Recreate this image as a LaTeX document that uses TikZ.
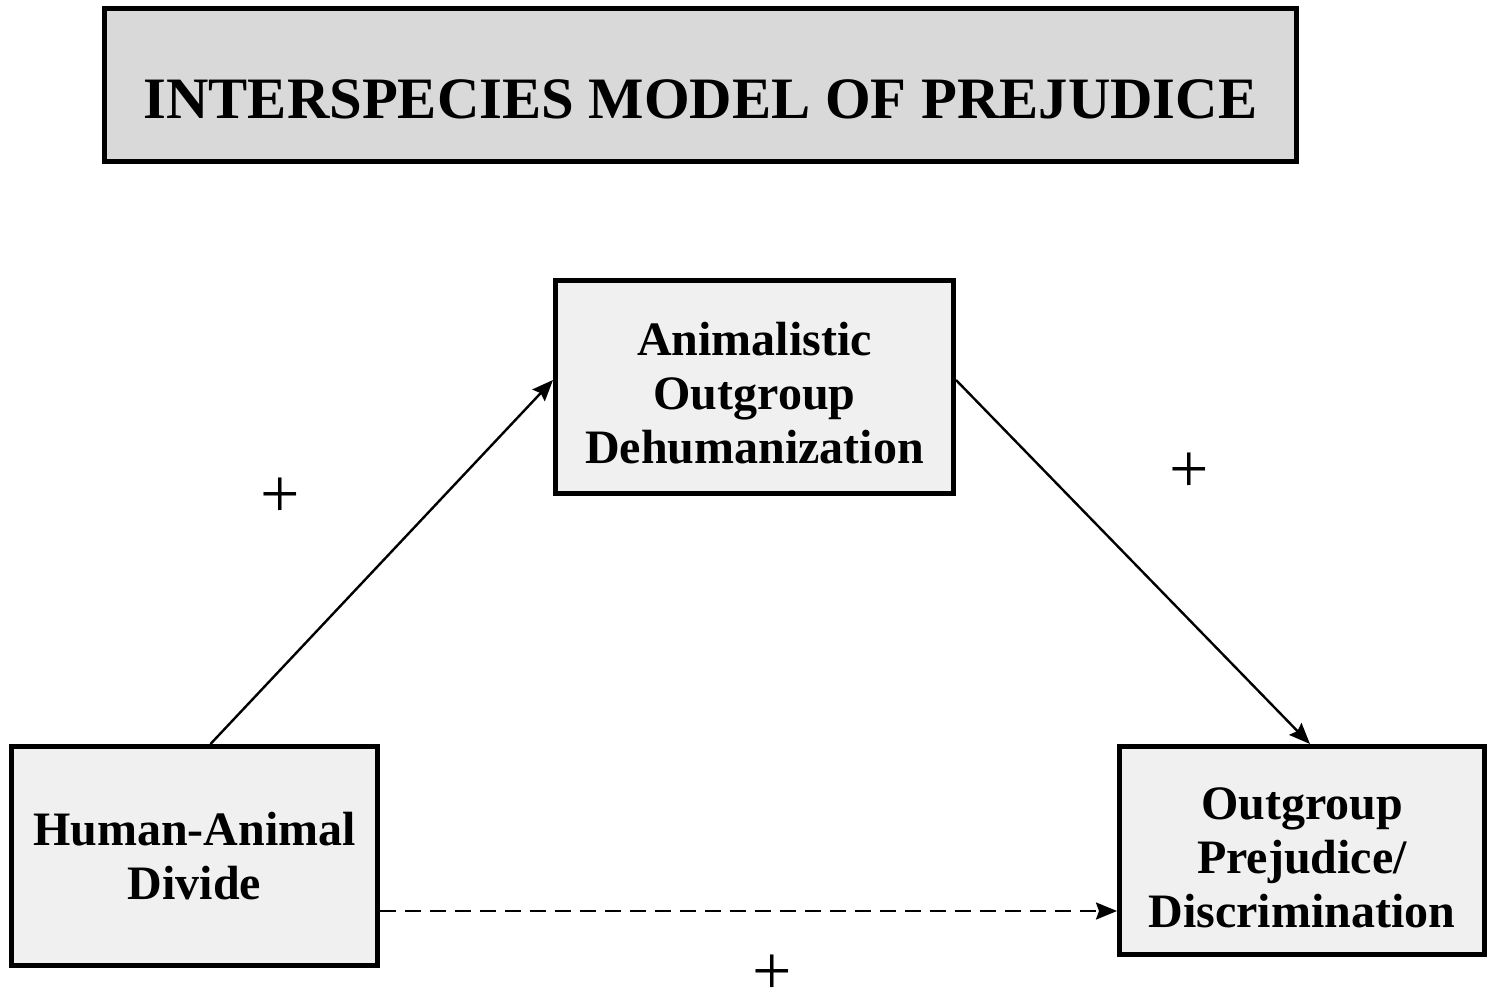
\documentclass[tikz,border=0pt]{standalone}
\usepackage{fontspec}
\setmainfont{Liberation Serif}
\usetikzlibrary{arrows.meta}
\definecolor{titlefill}{HTML}{D9D9D9}
\definecolor{boxfill}{HTML}{F0F0F0}
\begin{document}
\begin{tikzpicture}[x=1pt,y=-1pt,
  box/.style={draw=black,line width=5pt,fill=boxfill,inner sep=0pt},
  txt/.style={align=center,inner sep=0pt,font=\fontsize{48}{54}\selectfont\bfseries},
  conn/.style={line width=2.4pt,-{Stealth[length=21pt,width=17pt,inset=3pt]}},
  plus/.style={font=\fontsize{70}{70}\selectfont,inner sep=0pt}]
\useasboundingbox (0,0) rectangle (1489,1005);
\fill[white] (0,0) rectangle (1489,1005);
\node[box,fill=titlefill,minimum width=1192pt,minimum height=153pt] (title) at (700.5,85) {};
\node[txt,font=\fontsize{58.7}{64}\selectfont\bfseries] (titletext) at ([yshift=-14pt]title.center)
  {INTERSPECIES MODEL OF PREJUDICE};
\node[box,minimum width=398pt,minimum height=213pt] (anim) at (754.5,387) {};
\node[txt] (animtext) at ([yshift=-6pt]anim.center)
  {Animalistic\\Outgroup\\Dehumanization};
\node[box,minimum width=366pt,minimum height=219pt] (ha) at (194.5,856) {};
\node[txt] (hatext) at (ha.center) {Human-Animal\\Divide};
\node[box,minimum width=365pt,minimum height=208pt] (op) at (1302,850.5) {};
\node[txt] (optext) at ([yshift=-7pt]op.center)
  {Outgroup\\Prejudice/\\Discrimination};
\draw[conn] ([xshift=16pt]ha.north) -- ([yshift=7pt]anim.west);
\draw[conn] ([yshift=7pt]anim.east) -- ([xshift=8pt]op.north);
\draw[conn,dash pattern=on 16pt off 9pt] ([yshift=-55pt]ha.east) -- ([yshift=-60.5pt]op.west);
\node[plus] (p1) at (280,498) {+};
\node[plus] (p2) at (1189,473) {+};
\node[plus] (p3) at (772,975) {+};
\end{tikzpicture}
\end{document}
